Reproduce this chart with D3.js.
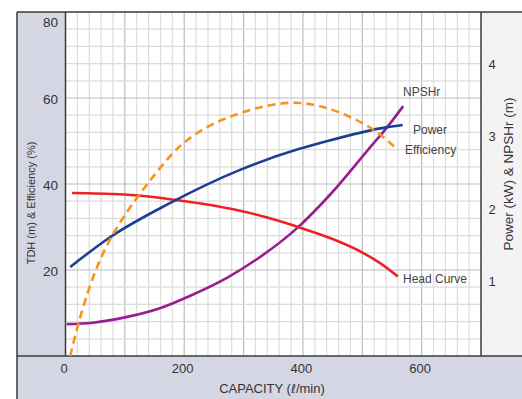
<!DOCTYPE html>
<html lang="en">
<head>
    <meta charset="UTF-8">
    <title>Pump Performance Curve</title>
    <script src="https://d3js.org/d3.v7.min.js"></script>
    <style>
        body {
            margin: 0;
            padding: 0;
            background: #fff;
        }

        svg {
            display: block;
            font-family: "Liberation Sans", Arial, sans-serif;
        }

        .tick-label {
            fill: #333;
        }

        .curve-label {
            fill: #444;
            font-size: 12px;
        }
    </style>
</head>
<body>
    <svg id="chart" width="522" height="399"></svg>

    <script>
        // Capacity (l/min) vs each curve
        const headQ = [11, 92, 140, 185, 249, 294, 340, 392, 450, 501, 530, 560];
        const headTDH = [37.9, 37.6, 37.1, 36.3, 35.0, 33.8, 32.2, 30.0, 27.2, 24.0, 21.6, 18.5];

        const effQ = [8, 20, 45, 75, 117, 154, 182, 204, 238, 277, 317, 361, 400, 455, 520, 560];
        const effPct = [0, 7, 18.4, 27.7, 36.3, 42.9, 47.5, 50.2, 53.4, 55.7, 57.6, 58.8, 59.1, 57.3, 53, 47.9];

        const powerQ = [8, 75, 171, 294, 390, 429, 542, 568];
        const powerKW = [1.23, 1.64, 2.09, 2.57, 2.85, 2.94, 3.16, 3.19];

        const npshQ = [2, 46, 104, 159, 215, 272, 323, 392, 446, 510, 542, 569];
        const npshM = [0.44, 0.46, 0.54, 0.66, 0.85, 1.08, 1.34, 1.78, 2.23, 2.85, 3.16, 3.45];

        const xTicks = [0, 200, 400, 600];
        const leftTicks = [20, 40, 60, 80];
        const rightTicks = [1, 2, 3, 4];

        const svg = d3.select("#chart");

        const plot = { left: 65.5, right: 481, top: 12, bottom: 356 };

        const x = d3.scaleLinear().domain([0, 700]).range([plot.left, plot.right]);
        const yLeft = d3.scaleLinear().domain([0, 80]).range([plot.bottom, plot.top]);
        const yRight = d3.scaleLinear().domain([0, 4.75]).range([plot.bottom, plot.top]);

        // panels
        svg.append("rect")
            .attr("x", 17).attr("y", plot.top)
            .attr("width", plot.left - 17).attr("height", plot.bottom - plot.top)
            .attr("fill", "#d5d6e3");
        svg.append("rect")
            .attr("x", 17).attr("y", plot.bottom)
            .attr("width", 522 - 17).attr("height", 399 - plot.bottom)
            .attr("fill", "#d5d6e3");
        svg.append("rect")
            .attr("x", plot.right).attr("y", plot.top)
            .attr("width", 522 - plot.right).attr("height", plot.bottom - plot.top)
            .attr("fill", "#f3f3f3");

        // grid
        const grid = svg.append("g");
        grid.selectAll("line.v")
            .data(d3.range(20, 700, 20))
            .enter().append("line")
            .attr("x1", d => x(d)).attr("x2", d => x(d))
            .attr("y1", plot.top).attr("y2", plot.bottom)
            .attr("stroke", d => d % 100 === 0 ? "#bcbcbc" : "#dcdcdc")
            .attr("stroke-width", 1.2);

        grid.selectAll("line.h")
            .data(d3.range(4, 80, 4))
            .enter().append("line")
            .attr("x1", plot.left).attr("x2", plot.right)
            .attr("y1", d => yLeft(d)).attr("y2", d => yLeft(d))
            .attr("stroke", d => d % 20 === 0 ? "#bcbcbc" : "#dcdcdc")
            .attr("stroke-width", 1.2);

        // frame
        const frame = svg.append("g").attr("stroke", "#3a3a3a").attr("stroke-width", 1.5);
        frame.append("line").attr("x1", 17).attr("x2", 522).attr("y1", plot.top).attr("y2", plot.top);
        frame.append("line").attr("x1", 17).attr("x2", 17).attr("y1", plot.top).attr("y2", 399);
        frame.append("line").attr("x1", plot.left).attr("x2", plot.left).attr("y1", plot.top).attr("y2", plot.bottom);
        frame.append("line").attr("x1", plot.right).attr("x2", plot.right).attr("y1", plot.top).attr("y2", plot.bottom);
        frame.append("line").attr("x1", 17).attr("x2", 522).attr("y1", plot.bottom).attr("y2", plot.bottom);

        // curves
        svg.append("clipPath").attr("id", "plot-clip")
            .append("rect")
            .attr("x", plot.left).attr("y", plot.top)
            .attr("width", plot.right - plot.left).attr("height", plot.bottom - plot.top);

        const curves = svg.append("g").attr("clip-path", "url(#plot-clip)");

        function drawCurve(qs, vs, yScale, color, curve, dash) {
            const pts = qs.map((q, i) => [q, vs[i]]);
            const line = d3.line()
                .x(d => x(d[0]))
                .y(d => yScale(d[1]))
                .curve(curve);
            curves.append("path")
                .datum(pts)
                .attr("d", line)
                .attr("fill", "none")
                .attr("stroke", color)
                .attr("stroke-width", 2.6)
                .attr("stroke-dasharray", dash || null);
        }

        drawCurve(npshQ, npshM, yRight, "#981d91", d3.curveMonotoneX);
        drawCurve(headQ, headTDH, yLeft, "#ec2227", d3.curveMonotoneX);
        drawCurve(powerQ, powerKW, yRight, "#1c3f94", d3.curveMonotoneX);
        drawCurve(effQ, effPct, yLeft, "#f7941d", d3.curveBasis, "8,5");

        // left axis labels
        svg.append("g").selectAll("text")
            .data(leftTicks)
            .enter().append("text")
            .attr("class", "tick-label")
            .attr("x", 58)
            .attr("y", d => Math.max(yLeft(d) + 1, 22))
            .attr("dy", "0.35em")
            .attr("text-anchor", "end")
            .attr("font-size", 13.5)
            .text(d => d);

        // bottom axis labels
        svg.append("g").selectAll("text")
            .data(xTicks)
            .enter().append("text")
            .attr("class", "tick-label")
            .attr("x", d => x(d) - 1.5)
            .attr("y", 368)
            .attr("dy", "0.35em")
            .attr("text-anchor", "middle")
            .attr("font-size", 13)
            .text(d => d);

        // right axis labels
        svg.append("g").selectAll("text")
            .data(rightTicks)
            .enter().append("text")
            .attr("class", "tick-label")
            .attr("x", 492)
            .attr("y", d => yRight(d) - 2)
            .attr("dy", "0.35em")
            .attr("text-anchor", "middle")
            .attr("font-size", 13)
            .text(d => d);

        // axis titles
        svg.append("text")
            .attr("class", "tick-label")
            .attr("transform", "translate(31,203) rotate(-90)")
            .attr("dy", "0.35em")
            .attr("text-anchor", "middle")
            .attr("font-size", 11)
            .text("TDH (m) & Efficiency (%)");

        svg.append("text")
            .attr("class", "tick-label")
            .attr("transform", "translate(508,174) rotate(-90)")
            .attr("dy", "0.35em")
            .attr("text-anchor", "middle")
            .attr("font-size", 13.5)
            .text("Power (kW) & NPSHr (m)");

        const capTitle = svg.append("text")
            .attr("class", "tick-label")
            .attr("x", 272)
            .attr("y", 388)
            .attr("dy", "0.35em")
            .attr("text-anchor", "middle")
            .attr("font-size", 13);
        capTitle.append("tspan").text("CAPACITY (");
        capTitle.append("tspan").attr("font-family", "DejaVu Sans").attr("font-size", 12).text("\u2113");
        capTitle.append("tspan").text("/min)");

        // curve labels
        const labels = [
            { text: "NPSHr", x: 403, y: 92 },
            { text: "Power", x: 413, y: 130 },
            { text: "Efficiency", x: 405, y: 150 },
            { text: "Head Curve", x: 403, y: 279 }
        ];
        svg.append("g").selectAll("text")
            .data(labels)
            .enter().append("text")
            .attr("class", "curve-label")
            .attr("x", d => d.x)
            .attr("y", d => d.y)
            .attr("dy", "0.35em")
            .text(d => d.text);
    </script>
</body>
</html>
